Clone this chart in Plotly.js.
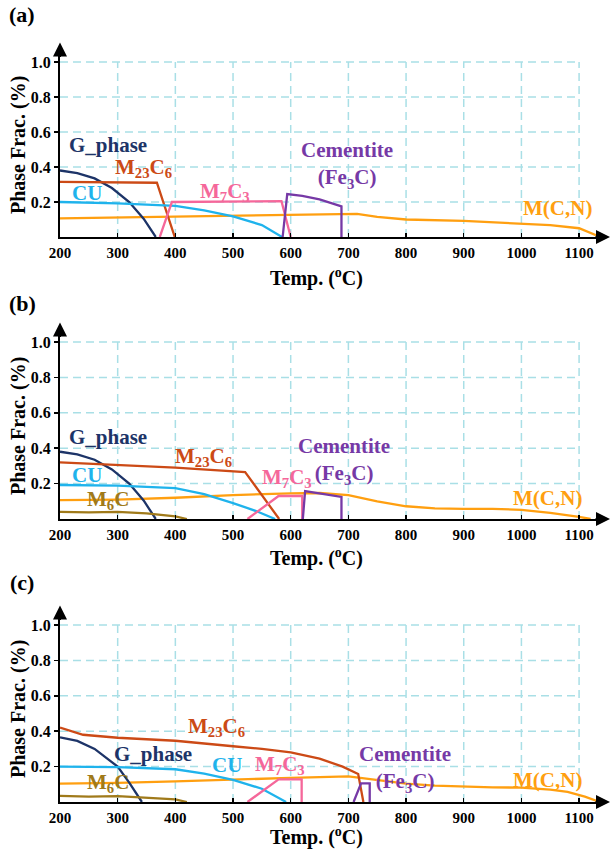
<!DOCTYPE html>
<html>
<head>
<meta charset="utf-8">
<script src="https://cdn.plot.ly/plotly-3.0.1.min.js"></script>
<style>html,body{margin:0;padding:0;background:#fff;}</style>
</head>
<body>
<div id="chart" style="width:611px;height:851px;"></div>
<script>
// ---------- Panel (a) ----------
const a_G_x = [200, 230, 260, 290, 320, 345, 366];
const a_G_y = [0.38, 0.365, 0.335, 0.28, 0.2, 0.105, 0];
const a_M23_x = [200, 368, 399];
const a_M23_y = [0.315, 0.31, 0];
const a_CU_x = [200, 300, 400, 450, 500, 550, 585];
const a_CU_y = [0.2, 0.192, 0.178, 0.152, 0.118, 0.068, 0];
const a_M7_x = [373, 394, 584, 600];
const a_M7_y = [0, 0.2, 0.205, 0];
const a_Cem_x = [586, 594, 620, 650, 688, 688];
const a_Cem_y = [0, 0.245, 0.235, 0.215, 0.175, 0];
const a_MCN_x = [200, 300, 400, 500, 600, 700, 715, 750, 800, 900, 1000, 1050, 1100, 1137];
const a_MCN_y = [0.107, 0.112, 0.116, 0.12, 0.124, 0.128, 0.132, 0.115, 0.1, 0.092, 0.078, 0.068, 0.05, 0];

// ---------- Panel (b) ----------
const b_G_x = [200, 230, 260, 290, 320, 345, 366];
const b_G_y = [0.38, 0.365, 0.335, 0.28, 0.2, 0.105, 0];
const b_M23_x = [200, 300, 400, 521, 580];
const b_M23_y = [0.32, 0.305, 0.29, 0.265, 0];
const b_CU_x = [200, 300, 400, 450, 500, 540, 573];
const b_CU_y = [0.192, 0.188, 0.175, 0.14, 0.09, 0.045, 0];
const b_M6_x = [200, 250, 300, 350, 400, 420];
const b_M6_y = [0.04, 0.037, 0.04, 0.032, 0.015, 0];
const b_M7_x = [525, 579, 620, 620];
const b_M7_y = [0, 0.13, 0.13, 0];
const b_Cem_x = [621, 625, 688, 688];
const b_Cem_y = [0, 0.158, 0.125, 0];
const b_MCN_x = [200, 300, 400, 500, 600, 650, 700, 750, 800, 850, 900, 950, 1000, 1050, 1100, 1120];
const b_MCN_y = [0.107, 0.11, 0.12, 0.135, 0.145, 0.147, 0.135, 0.1, 0.072, 0.06, 0.057, 0.057, 0.052, 0.035, 0.012, 0];

// ---------- Panel (c) ----------
const c_G_x = [200, 230, 260, 285, 300, 320, 342];
const c_G_y = [0.365, 0.345, 0.3, 0.24, 0.2, 0.11, 0];
const c_M23_x = [200, 240, 300, 400, 500, 550, 600, 650, 690, 717, 726];
const c_M23_y = [0.42, 0.38, 0.363, 0.346, 0.315, 0.3, 0.28, 0.245, 0.2, 0.158, 0];
const c_CU_x = [200, 300, 400, 450, 500, 550, 592];
const c_CU_y = [0.2, 0.197, 0.185, 0.16, 0.125, 0.075, 0];
const c_M6_x = [200, 250, 300, 350, 400, 420];
const c_M6_y = [0.035, 0.03, 0.033, 0.025, 0.015, 0];
const c_M7_x = [525, 579, 619, 619];
const c_M7_y = [0, 0.128, 0.128, 0];
const c_Cem_x = [709, 722, 737, 737];
const c_Cem_y = [0, 0.105, 0.105, 0];
const c_MCN_x = [200, 300, 400, 500, 600, 700, 750, 800, 850, 900, 950, 1000, 1050, 1080, 1110, 1136];
const c_MCN_y = [0.104, 0.108, 0.117, 0.128, 0.136, 0.145, 0.125, 0.104, 0.092, 0.086, 0.083, 0.081, 0.07, 0.057, 0.03, 0];

// ---------- Ticks / grid ----------
const xTickVals = [200, 300, 400, 500, 600, 700, 800, 900, 1000, 1100];
const yTickVals = [0.2, 0.4, 0.6, 0.8, 1.0];
const yTickText = ['0.2', '0.4', '0.6', '0.8', '1.0'];
const gridX = [300, 400, 500, 600, 700, 800, 900, 1000, 1100];
const gridY = [0.2, 0.4, 0.6, 0.8, 1.0];

const COL = {
  G: '#1d3468', M23: '#cc4a16', CU: '#1fb3ec', M7: '#f5679a',
  Cem: '#7639a6', MCN: '#ff9f10', M6: '#a07a1a'
};
const FONT = '"Liberation Serif", "Times New Roman", Times, serif';

function tr(x, y, color, ax) {
  return { x: x, y: y, type: 'scatter', mode: 'lines', xaxis: 'x' + ax, yaxis: 'y' + ax,
           line: { color: color, width: 2.3 }, hoverinfo: 'skip', showlegend: false };
}
const data = [
  tr(a_MCN_x, a_MCN_y, COL.MCN, ''), tr(a_G_x, a_G_y, COL.G, ''), tr(a_M23_x, a_M23_y, COL.M23, ''),
  tr(a_CU_x, a_CU_y, COL.CU, ''), tr(a_M7_x, a_M7_y, COL.M7, ''), tr(a_Cem_x, a_Cem_y, COL.Cem, ''),
  tr(b_MCN_x, b_MCN_y, COL.MCN, '2'), tr(b_G_x, b_G_y, COL.G, '2'), tr(b_M23_x, b_M23_y, COL.M23, '2'),
  tr(b_CU_x, b_CU_y, COL.CU, '2'), tr(b_M6_x, b_M6_y, COL.M6, '2'), tr(b_M7_x, b_M7_y, COL.M7, '2'),
  tr(b_Cem_x, b_Cem_y, COL.Cem, '2'),
  tr(c_MCN_x, c_MCN_y, COL.MCN, '3'), tr(c_G_x, c_G_y, COL.G, '3'), tr(c_M23_x, c_M23_y, COL.M23, '3'),
  tr(c_CU_x, c_CU_y, COL.CU, '3'), tr(c_M6_x, c_M6_y, COL.M6, '3'), tr(c_M7_x, c_M7_y, COL.M7, '3'),
  tr(c_Cem_x, c_Cem_y, COL.Cem, '3')
];

const W = 611, H = 851;
const xPx = [60, 601];
const xDomain = [xPx[0] / W, xPx[1] / W];
const yPx = [[237, 44.5], [519, 324.3], [802, 607.3]]; // [bottom, top(1.1)] in px
const Y_TOP = 1.06;
const yDomains = yPx.map(function (p) {
  const unit = (p[0] - p[1]) / 1.1;
  const top = p[0] - Y_TOP * unit;
  return [(H - p[0]) / H, (H - top) / H];
});

function xax(anchor) {
  return { domain: xDomain, range: [200, 1138], anchor: anchor, showgrid: false, zeroline: false,
    showline: true, linecolor: '#000', linewidth: 2, tickmode: 'array', tickvals: xTickVals,
    ticks: 'inside', ticklen: 4, tickwidth: 1.5, tickcolor: '#000', ticklabelstandoff: 1,
    tickfont: { family: FONT, size: 15, color: '#000', weight: 'bold' }, fixedrange: true };
}
function yax(anchor, dom) {
  return { domain: dom, range: [0, Y_TOP], anchor: anchor, showgrid: false, zeroline: false,
    showline: true, linecolor: '#000', linewidth: 2, tickmode: 'array', tickvals: yTickVals, ticktext: yTickText,
    ticks: 'outside', ticklen: 4, tickwidth: 1.5, tickcolor: '#000',
    tickfont: { family: FONT, size: 16, color: '#000', weight: 'bold' }, fixedrange: true };
}

const shapes = [];
['', '2', '3'].forEach(function (s) {
  gridX.forEach(function (v) {
    shapes.push({ type: 'line', xref: 'x' + s, yref: 'y' + s, x0: v, x1: v, y0: 0, y1: 1.0, layer: 'below',
      line: { color: '#a9dfe6', width: 1.5, dash: '8px,5px' } });
  });
  gridY.forEach(function (v) {
    shapes.push({ type: 'line', xref: 'x' + s, yref: 'y' + s, x0: 200, x1: 1100, y0: v, y1: v, layer: 'below',
      line: { color: '#a9dfe6', width: 1.5, dash: '8px,5px' } });
  });
});

const annotations = [];
function lab(text, x, y, color, s) {
  annotations.push({ text: text, x: x, y: y, xref: 'x' + s, yref: 'y' + s, showarrow: false,
    font: { family: FONT, size: 21, color: color, weight: 'bold' }, xanchor: 'center', yanchor: 'middle' });
}
const M23 = 'M<sub>23</sub>C<sub>6</sub>', M7 = 'M<sub>7</sub>C<sub>3</sub>', M6 = 'M<sub>6</sub>C';
const CEM = 'Cementite<br>(Fe<sub>3</sub>C)';
// (a)
lab('G_phase', 283, 0.526, COL.G, '');
lab(M23, 344, 0.394, COL.M23, '');
lab('CU', 247, 0.25, COL.CU, '');
lab(M7, 486, 0.257, COL.M7, '');
lab(CEM, 698, 0.41, COL.Cem, '');
lab('M(C,N)', 1062, 0.166, COL.MCN, '');
// (b)
lab('G_phase', 283, 0.465, COL.G, '2');
lab(M23, 448, 0.352, COL.M23, '2');
lab('CU', 247, 0.249, COL.CU, '2');
lab(M6, 283, 0.107, COL.M6, '2');
lab(M7, 594, 0.23, COL.M7, '2');
lab(CEM, 692, 0.325, COL.Cem, '2');
lab('M(C,N)', 1046, 0.119, COL.MCN, '2');
// (c)
lab(M23, 472, 0.423, COL.M23, '3');
lab('G_phase', 362, 0.271, COL.G, '3');
lab('CU', 489, 0.209, COL.CU, '3');
lab(M7, 581, 0.209, COL.M7, '3');
lab(M6, 283, 0.105, COL.M6, '3');
lab(CEM, 798, 0.185, COL.Cem, '3');
lab('M(C,N)', 1046, 0.124, COL.MCN, '3');

// arrows, titles, panel letters
const panelY = [[15, 277], [303, 557], [582, 836]];
const yTitleY = [145, 426, 709];
const letters = ['(a)', '(b)', '(c)'];
[0, 1, 2].forEach(function (i) {
  const yb = yPx[i][0], unit = (yPx[i][0] - yPx[i][1]) / 1.1, yt = yb - Y_TOP * unit;
  annotations.push({ x: 610 / W, y: 1 - yb / H, xref: 'paper', yref: 'paper', ax: -16, ay: 0, text: '',
    showarrow: true, arrowhead: 2, arrowsize: 1.4, arrowwidth: 2, arrowcolor: '#000', standoff: 0 });
  annotations.push({ x: 60 / W, y: 1 - (yt - 9) / H, xref: 'paper', yref: 'paper', ax: 0, ay: 16, text: '',
    showarrow: true, arrowhead: 2, arrowsize: 1.4, arrowwidth: 2, arrowcolor: '#000', standoff: 0 });
  annotations.push({ text: letters[i], xref: 'paper', yref: 'paper', x: 22 / W, y: 1 - panelY[i][0] / H,
    xanchor: 'center', yanchor: 'middle', showarrow: false,
    font: { family: FONT, size: 22, color: '#000', weight: 'bold' } });
  annotations.push({ text: 'Temp. (<sup>o</sup>C)', xref: 'paper', yref: 'paper', x: 316 / W, y: 1 - panelY[i][1] / H,
    xanchor: 'center', yanchor: 'middle', showarrow: false,
    font: { family: FONT, size: 20, color: '#000', weight: 'bold' } });
  annotations.push({ text: 'Phase Frac. (%)', xref: 'paper', yref: 'paper', x: 18 / W, y: 1 - yTitleY[i] / H,
    xanchor: 'center', yanchor: 'middle', textangle: -90, showarrow: false,
    font: { family: FONT, size: 20, color: '#000', weight: 'bold' } });
});

const layout = {
  width: W, height: H, margin: { l: 0, r: 0, t: 0, b: 0 },
  paper_bgcolor: '#fff', plot_bgcolor: '#fff', showlegend: false,
  xaxis: xax('y'), yaxis: yax('x', yDomains[0]),
  xaxis2: xax('y2'), yaxis2: yax('x2', yDomains[1]),
  xaxis3: xax('y3'), yaxis3: yax('x3', yDomains[2]),
  shapes: shapes, annotations: annotations
};
Plotly.newPlot('chart', data, layout, { staticPlot: true, displayModeBar: false });
</script>
</body>
</html>
